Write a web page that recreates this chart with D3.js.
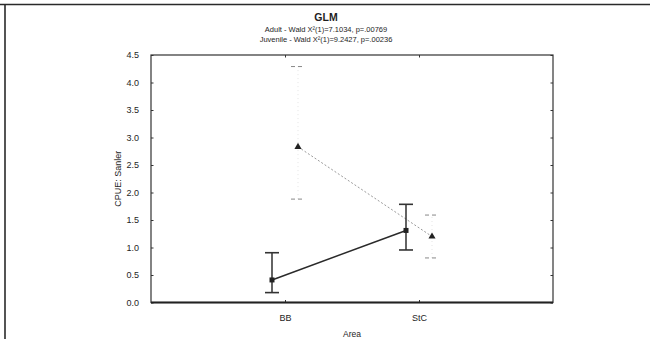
<!DOCTYPE html>
<html>
<head>
<meta charset="utf-8">
<script src="https://cdn.jsdelivr.net/npm/d3@7"></script>
<style>
  html, body { margin: 0; padding: 0; background: #fff; }
  svg text { font-family: "Liberation Sans", Arial, sans-serif; fill: #1e1e1e; }
</style>
</head>
<body>
<svg id="chart" width="650" height="339"></svg>
<script>
// GLM means of CPUE by area, with confidence limits
const areas = ["BB", "StC"];
const adultMean = [0.41, 1.31];
const adultLow = [0.18, 0.955];
const adultHigh = [0.905, 1.785];
const juvMean = [2.83, 1.20];
const juvLow = [1.88, 0.81];
const juvHigh = [4.29, 1.59];
const yTicks = [0, 0.5, 1, 1.5, 2, 2.5, 3, 3.5, 4, 4.5];

const titleLines = [
  "GLM",
  "Adult - Wald  X\u00b2(1)=7.1034, p=.00769",
  "Juvenile - Wald  X\u00b2(1)=9.2427, p=.00236"
];

const svg = d3.select("#chart");
const plot = { left: 151, right: 553, top: 55, bottom: 302.5 };

const x = d3.scalePoint().domain(areas).range([plot.left, plot.right]).padding(1);
const y = d3.scaleLinear().domain([0, 4.5]).range([plot.bottom, plot.top]);
const dodge = 13;

// outer frame lines
svg.append("line").attr("x1", 0).attr("x2", 650).attr("y1", 4.5).attr("y2", 4.5)
  .attr("stroke", "#2a2a2a").attr("stroke-width", 1.6);
svg.append("line").attr("x1", 5).attr("x2", 5).attr("y1", 4).attr("y2", 339)
  .attr("stroke", "#2a2a2a").attr("stroke-width", 1.6);

// titles
svg.append("text").attr("x", 326).attr("y", 21).attr("text-anchor", "middle")
  .attr("font-size", 10.5).attr("font-weight", "bold").text(titleLines[0]);
svg.append("text").attr("x", 326).attr("y", 32).attr("text-anchor", "middle")
  .attr("font-size", 7.5).text(titleLines[1]);
svg.append("text").attr("x", 326).attr("y", 41.5).attr("text-anchor", "middle")
  .attr("font-size", 7.5).text(titleLines[2]);

// plot frame
svg.append("rect").attr("x", plot.left).attr("y", plot.top)
  .attr("width", plot.right - plot.left).attr("height", plot.bottom - plot.top)
  .attr("fill", "none").attr("stroke", "#333").attr("stroke-width", 1.2);

// left axis
const yAxis = d3.axisLeft(y).tickValues(yTicks).tickSize(-2.5).tickPadding(12)
  .tickFormat(d3.format(".1f"));
const gy = svg.append("g").attr("transform", `translate(${plot.left},0)`).call(yAxis);
gy.select(".domain").remove();
gy.selectAll(".tick line").attr("stroke", "#333");
gy.selectAll(".tick text").attr("font-size", 9).attr("font-family", "Liberation Sans, Arial, sans-serif").attr("fill", "#1e1e1e");

// right axis ticks
const yAxisR = d3.axisRight(y).tickValues(yTicks).tickSize(-2.5).tickFormat("");
const gyr = svg.append("g").attr("transform", `translate(${plot.right},0)`).call(yAxisR);
gyr.select(".domain").remove();
gyr.selectAll(".tick line").attr("stroke", "#333");

// bottom axis
const xAxis = d3.axisBottom(x).tickSize(-2.5).tickPadding(12);
const gx = svg.append("g").attr("transform", `translate(0,${plot.bottom})`).call(xAxis);
gx.select(".domain").remove();
gx.selectAll(".tick line").attr("stroke", "#333");
gx.selectAll(".tick text").attr("font-size", 9).attr("font-family", "Liberation Sans, Arial, sans-serif").attr("fill", "#1e1e1e");
svg.append("line").attr("x1", plot.left).attr("x2", plot.right)
  .attr("y1", plot.bottom).attr("y2", plot.bottom).attr("stroke", "#222").attr("stroke-width", 1.8);

// top axis ticks
const xAxisT = d3.axisTop(x).tickSize(-2.5).tickFormat("");
const gxt = svg.append("g").attr("transform", `translate(0,${plot.top})`).call(xAxisT);
gxt.select(".domain").remove();
gxt.selectAll(".tick line").attr("stroke", "#333");

// axis titles
svg.append("text").attr("x", 352).attr("y", 337).attr("text-anchor", "middle")
  .attr("font-size", 8.5).text("Area");
svg.append("text").attr("transform", `translate(121,${(plot.top + plot.bottom) / 2}) rotate(-90)`)
  .attr("text-anchor", "middle").attr("font-size", 9).text("CPUE: Sanler");

// juvenile series (light dotted)
const juvX = areas.map(a => x(a) + dodge);
const juvColor = "#9a9a9a";
const capW = 7;
svg.append("path")
  .datum(areas.map((a, i) => [juvX[i], y(juvMean[i])]))
  .attr("d", d3.line())
  .attr("fill", "none").attr("stroke", juvColor).attr("stroke-width", 1)
  .attr("stroke-dasharray", "2,2");
areas.forEach((a, i) => {
  const cx = juvX[i];
  svg.append("line").attr("x1", cx).attr("x2", cx)
    .attr("y1", y(juvLow[i])).attr("y2", y(juvHigh[i]))
    .attr("stroke", "#e4e4e4").attr("stroke-width", 1).attr("stroke-dasharray", "1,3");
  [juvLow[i], juvHigh[i]].forEach(v => {
    svg.append("line").attr("x1", cx - capW).attr("x2", cx + capW)
      .attr("y1", y(v)).attr("y2", y(v))
      .attr("stroke", "#888").attr("stroke-width", 1).attr("stroke-dasharray", "4,3");
  });
  svg.append("path").attr("d", d3.symbol(d3.symbolTriangle, 22)())
    .attr("transform", `translate(${cx},${y(juvMean[i])})`)
    .attr("fill", "#222");
});

// adult series (solid)
const adX = areas.map(a => x(a) - dodge);
svg.append("path")
  .datum(areas.map((a, i) => [adX[i], y(adultMean[i])]))
  .attr("d", d3.line())
  .attr("fill", "none").attr("stroke", "#2a2a2a").attr("stroke-width", 1.5);
areas.forEach((a, i) => {
  const cx = adX[i];
  svg.append("line").attr("x1", cx).attr("x2", cx)
    .attr("y1", y(adultLow[i])).attr("y2", y(adultHigh[i]))
    .attr("stroke", "#222").attr("stroke-width", 1.4);
  [adultLow[i], adultHigh[i]].forEach(v => {
    svg.append("line").attr("x1", cx - capW).attr("x2", cx + capW)
      .attr("y1", y(v)).attr("y2", y(v))
      .attr("stroke", "#333").attr("stroke-width", 1.6);
  });
  svg.append("rect").attr("x", cx - 2.5).attr("y", y(adultMean[i]) - 2.5)
    .attr("width", 5).attr("height", 5).attr("fill", "#222");
});
</script>
</body>
</html>
